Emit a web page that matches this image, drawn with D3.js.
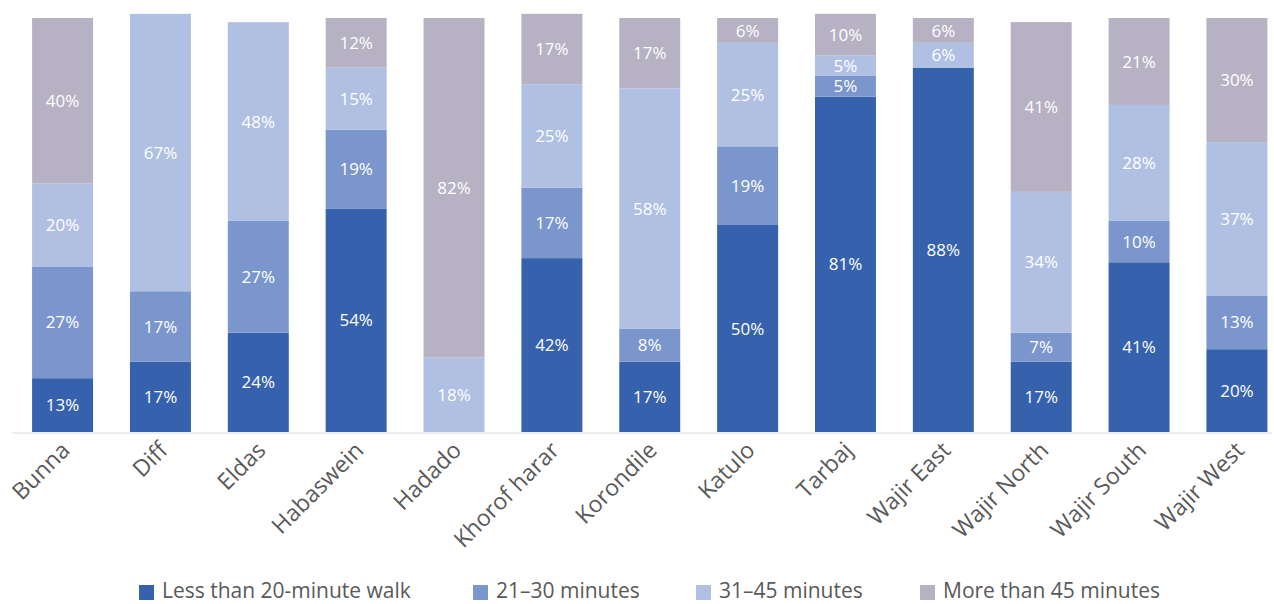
<!DOCTYPE html>
<html>
<head>
<meta charset="utf-8">
<script src="https://cdn.jsdelivr.net/npm/d3@7"></script>
<style>
  html, body { margin: 0; padding: 0; background: #fff; }
  svg { display: block; font-family: "Open Sans", "Lato", sans-serif; }
</style>
</head>
<body>
<svg id="chart" width="1274" height="604"></svg>
<script>
// Walking time to water source, by sub-county (share of households, %)
const categories = ["Bunna", "Diff", "Eldas", "Habaswein", "Hadado", "Khorof harar",
  "Korondile", "Katulo", "Tarbaj", "Wajir East", "Wajir North", "Wajir South", "Wajir West"];
const seriesNames = ["Less than 20-minute walk", "21\u201330 minutes", "31\u201345 minutes", "More than 45 minutes"];
const lessThan20 = [13, 17, 24, 54, 0, 42, 17, 50, 81, 88, 17, 41, 20];
const min21to30  = [27, 17, 27, 19, 0, 17, 8, 19, 5, 0, 7, 10, 13];
const min31to45  = [20, 67, 48, 15, 18, 25, 58, 25, 5, 6, 34, 28, 37];
const moreThan45 = [40, 0, 0, 12, 82, 17, 17, 6, 10, 6, 41, 21, 30];
const colors = ["#3661ad", "#7a96cc", "#afc0e2", "#b6b1c3"];

const seriesValues = [lessThan20, min21to30, min31to45, moreThan45];
const keys = ["s0", "s1", "s2", "s3"];
const rows = categories.map((c, i) => {
  const r = { category: c };
  keys.forEach((k, j) => r[k] = seriesValues[j][i]);
  return r;
});

const svg = d3.select("#chart");
const x = d3.scaleBand().domain(categories).range([13.5, 1286]).paddingInner(0.377).paddingOuter(0.19);
const y = d3.scaleLinear().domain([0, 100]).range([432, 18]);

const stack = d3.stack().keys(keys)(rows);

const layers = svg.append("g").selectAll("g").data(stack).join("g")
  .attr("fill", (d, i) => colors[i]);

layers.selectAll("rect").data(d => d.filter(p => p[1] - p[0] > 0)).join("rect")
  .attr("x", d => x(d.data.category))
  .attr("width", x.bandwidth())
  .attr("y", d => y(d[1]))
  .attr("height", d => y(d[0]) - y(d[1]));

layers.selectAll("text").data(d => d.filter(p => p[1] - p[0] > 0)).join("text")
  .attr("x", d => x(d.data.category) + x.bandwidth() / 2)
  .attr("y", d => (y(d[0]) + y(d[1])) / 2)
  .attr("dy", "0.36em")
  .attr("text-anchor", "middle")
  .attr("fill", "#fff")
  .attr("font-size", 17)
  .text(d => (d[1] - d[0]) + "%");

// baseline
svg.append("line")
  .attr("x1", 12).attr("x2", 1272)
  .attr("y1", 433).attr("y2", 433)
  .attr("stroke", "#d9d9d9").attr("stroke-width", 1.2);

// category labels
svg.append("g").selectAll("text").data(categories).join("text")
  .attr("transform", d => `translate(${x(d) + x.bandwidth() / 2 + 3},${446}) rotate(-45)`)
  .attr("text-anchor", "end")
  .attr("dy", "0.35em")
  .attr("fill", "#595959")
  .attr("font-size", 23)
  .text(d => d);

// legend
const legendX = [139, 473, 696, 920];
const legend = svg.append("g").selectAll("g").data(seriesNames).join("g")
  .attr("transform", (d, i) => `translate(${legendX[i]},585)`);
legend.append("rect").attr("width", 15).attr("height", 15).attr("fill", (d, i) => colors[i]);
legend.append("text")
  .attr("x", 23).attr("y", 13)
  .attr("fill", "#595959").attr("font-size", 21)
  .text(d => d);
</script>
</body>
</html>
